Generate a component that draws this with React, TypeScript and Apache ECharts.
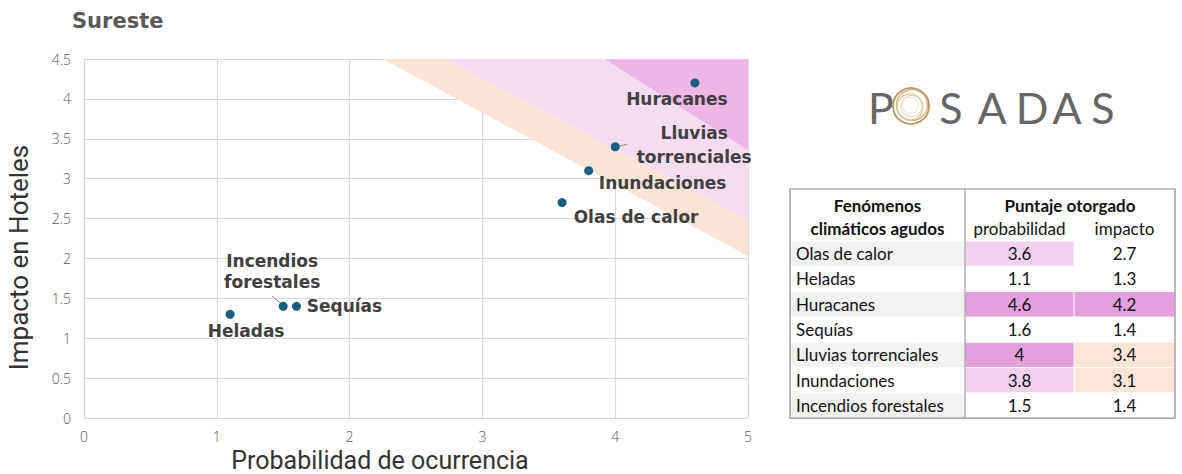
import React, { useEffect, useRef } from "react";
import * as echarts from "echarts";

// Acute climate hazards scored for the Sureste region
const hazards = [
  "Olas de calor",
  "Heladas",
  "Huracanes",
  "Sequías",
  "Lluvias torrenciales",
  "Inundaciones",
  "Incendios forestales",
];
const chartLabels = [
  "Olas de calor",
  "Heladas",
  "Huracanes",
  "Sequías",
  "Lluvias\ntorrenciales",
  "Inundaciones",
  "Incendios\nforestales",
];
const probability = [3.6, 1.1, 4.6, 1.6, 4, 3.8, 1.5];
const impact = [2.7, 1.3, 4.2, 1.4, 3.4, 3.1, 1.4];

// Risk zones (polygons in probability / impact units)
const orangeZone = [[2.25, 4.5], [2.72, 4.5], [5, 2.48], [5, 2.03]];
const lightPinkZone = [[2.72, 4.5], [5, 4.5], [5, 2.48]];
const darkPinkZone = [[3.92, 4.5], [5, 4.5], [5, 3.36]];

// Leader lines joining two labels to their points
const leaderIncendios = [[1.416, 1.53], [1.49, 1.425]];
const leaderLluvias = [[4.02, 3.405], [4.09, 3.43]];

const xTicks = { min: 0, max: 5, interval: 1 };
const yTicks = { min: 0, max: 4.5, interval: 0.5 };

// Presentation
const labelOffsets = [
  [74, 14],
  [16, 17],
  [-18, 16],
  [48, 0],
  [79, -2],
  [74, 12],
  [-11, -35],
];
const zoneColors = ["#fbe4d6", "#f5ddf1", "#ecb6e5"];
const cellColors: Record<string, string> = {
  none: "#ffffff",
  gray: "#f2f2f2",
  pinkLight: "#f2d0ef",
  pinkDark: "#e4a0dc",
  orange: "#fce4d6",
};
const probabilityFill = ["pinkLight", "none", "pinkDark", "none", "pinkDark", "pinkLight", "none"];
const impactFill = ["none", "none", "pinkDark", "none", "orange", "orange", "none"];
const nameFill = ["gray", "none", "gray", "none", "gray", "none", "gray"];

const LABEL_FONT = "'DejaVu Sans', sans-serif";
const AXIS_FONT = "'Open Sans', sans-serif";
const AXIS_NAME_FONT = "Roboto, 'Open Sans', sans-serif";
const TABLE_FONT = "Lato, 'Noto Sans', sans-serif";

function buildTable(): any[] {
  const cols = [790, 965, 1074, 1175];
  const top = 189;
  const bodyTop = 241;
  const rowH = 25.3;
  const els: any[] = [];
  const bodyFont = `17px ${TABLE_FONT}`;
  hazards.forEach((h, i) => {
    const y = bodyTop + i * rowH;
    const fills = [nameFill[i], probabilityFill[i], impactFill[i]];
    fills.forEach((f, c) => {
      els.push({
        type: "rect",
        shape: { x: cols[c] + 0.5, y: y + 0.5, width: cols[c + 1] - cols[c] - 1, height: rowH - 1 },
        style: { fill: cellColors[f] },
        silent: true,
      });
    });
    els.push({
      type: "text",
      x: cols[0] + 6,
      y: y + rowH / 2,
      style: { text: h, font: bodyFont, fill: "#111111", align: "left", verticalAlign: "middle" },
    });
    els.push({
      type: "text",
      x: (cols[1] + cols[2]) / 2,
      y: y + rowH / 2,
      style: { text: String(probability[i]), font: bodyFont, fill: "#111111", align: "center", verticalAlign: "middle" },
    });
    els.push({
      type: "text",
      x: (cols[2] + cols[3]) / 2,
      y: y + rowH / 2,
      style: { text: String(impact[i]), font: bodyFont, fill: "#111111", align: "center", verticalAlign: "middle" },
    });
  });
  const bottom = bodyTop + hazards.length * rowH;
  const hdr = (text: string, x: number, y: number, bold: boolean) => ({
    type: "text",
    x,
    y,
    style: {
      text,
      font: bold ? `bold 17px ${TABLE_FONT}` : bodyFont,
      fill: "#111111",
      align: "center",
      verticalAlign: "middle",
    },
  });
  els.push(hdr("Fenómenos", (cols[0] + cols[1]) / 2, 205, true));
  els.push(hdr("climáticos agudos", (cols[0] + cols[1]) / 2, 228, true));
  els.push(hdr("Puntaje otorgado", (cols[1] + cols[3]) / 2, 205, true));
  els.push(hdr("probabilidad", (cols[1] + cols[2]) / 2, 228, false));
  els.push(hdr("impacto", (cols[2] + cols[3]) / 2, 228, false));
  els.push({
    type: "rect",
    shape: { x: cols[0], y: top, width: cols[3] - cols[0], height: bottom - top },
    style: { fill: "none", stroke: "#8c8c8c", lineWidth: 1.2 },
    silent: true,
  });
  els.push({
    type: "line",
    shape: { x1: cols[1], y1: top, x2: cols[1], y2: bottom },
    style: { stroke: "#8c8c8c", lineWidth: 1 },
    silent: true,
  });
  return els;
}

function buildLogo(): any[] {
  const letterFont = "normal 43px Lato, 'Open Sans', sans-serif";
  const letters: [string, number][] = [
    ["P", 881],
    ["S", 951],
    ["A", 992],
    ["D", 1032],
    ["A", 1067],
    ["S", 1103],
  ];
  const els: any[] = letters.map(([t, x]) => ({
    type: "text",
    x,
    y: 107,
    style: { text: t, font: letterFont, fill: "#666666", align: "center", verticalAlign: "middle" },
  }));
  const rings: [number, number, number, string, number][] = [
    [911, 106, 18, "#b8955a", 1.8],
    [912, 105, 15.5, "#cdb27c", 1.3],
    [910, 107, 13, "#d9c69c", 1.2],
    [911.5, 106, 10.5, "#e2d3b0", 1],
    [910.5, 105.5, 8, "#ebdfc4", 0.9],
  ];
  rings.forEach(([cx, cy, r, c, w]) => {
    els.push({
      type: "circle",
      shape: { cx, cy, r },
      style: { fill: "none", stroke: c, lineWidth: w },
      silent: true,
    });
  });
  return els;
}

export default function App() {
  const ref = useRef<HTMLDivElement>(null);

  useEffect(() => {
    if (!ref.current) return;
    const chart = echarts.init(ref.current, undefined, { renderer: "svg" });
    const zones = [orangeZone, lightPinkZone, darkPinkZone];

    const leader = (pts: number[][]) => ({
      type: "line",
      data: pts,
      symbol: "none",
      silent: true,
      lineStyle: { color: "#8a8a8a", width: 1 },
      z: 3,
    });

    chart.setOption({
      animation: false,
      backgroundColor: "#ffffff",
      title: {
        text: "Sureste",
        left: 67,
        top: 5,
        textStyle: { fontFamily: LABEL_FONT, fontWeight: "bold", fontSize: 21, color: "#595959" },
      },
      grid: {
        left: 84,
        right: 434,
        top: 59,
        bottom: 56,
        containLabel: false,
        outerBoundsMode: "none",
      },
      xAxis: {
        type: "value",
        ...xTicks,
        name: "Probabilidad de ocurrencia",
        nameLocation: "middle",
        nameGap: 25,
        nameTextStyle: {
          fontFamily: AXIS_NAME_FONT,
          fontSize: 25,
          lineHeight: 25,
          color: "#333333",
          padding: [0, 72, 0, 0],
        },
        axisLine: { show: true, lineStyle: { color: "#d9d9d9" } },
        axisTick: { show: false },
        axisLabel: { margin: 11, fontFamily: AXIS_FONT, fontWeight: 300, fontSize: 14, color: "#595959" },
        splitLine: { show: true, lineStyle: { color: "#d9d9d9", width: 1.2 } },
      },
      yAxis: {
        type: "value",
        ...yTicks,
        name: "Impacto en Hoteles",
        nameLocation: "middle",
        nameGap: 52,
        nameTextStyle: {
          fontFamily: AXIS_NAME_FONT,
          fontSize: 26,
          color: "#333333",
          padding: [0, 38, 0, 0],
        },
        axisLine: { show: true, lineStyle: { color: "#d9d9d9" } },
        axisTick: { show: false },
        axisLabel: { margin: 13, fontFamily: AXIS_FONT, fontWeight: 300, fontSize: 14, color: "#595959" },
        splitLine: { show: true, lineStyle: { color: "#d9d9d9", width: 1.2 } },
      },
      series: [
        {
          type: "custom",
          silent: true,
          z: 1,
          data: zones.map((z) => z[0]),
          renderItem: (params: any, api: any) => {
            const poly = zones[params.dataIndex];
            return {
              type: "polygon",
              shape: { points: poly.map((p) => api.coord(p)) },
              style: { fill: zoneColors[params.dataIndex] },
            };
          },
        },
        leader(leaderIncendios),
        leader(leaderLluvias),
        {
          type: "scatter",
          symbolSize: 9,
          z: 4,
          itemStyle: { color: "#1a5f80", opacity: 1 },
          data: hazards.map((h, i) => ({
            name: h,
            value: [probability[i], impact[i]],
            label: {
              show: true,
              formatter: chartLabels[i],
              position: "inside",
              offset: labelOffsets[i],
              align: "center",
              verticalAlign: "middle",
              fontFamily: LABEL_FONT,
              fontWeight: "bold",
              fontSize: 17,
              lineHeight: i === 6 ? 21 : 24,
              color: "#404040",
            },
          })),
        },
      ],
      graphic: [...buildTable(), ...buildLogo()],
    });

    return () => chart.dispose();
  }, []);

  return (
    <div
      ref={ref}
      style={{ position: "fixed", left: 0, top: 0, width: 1182, height: 474 }}
    />
  );
}
